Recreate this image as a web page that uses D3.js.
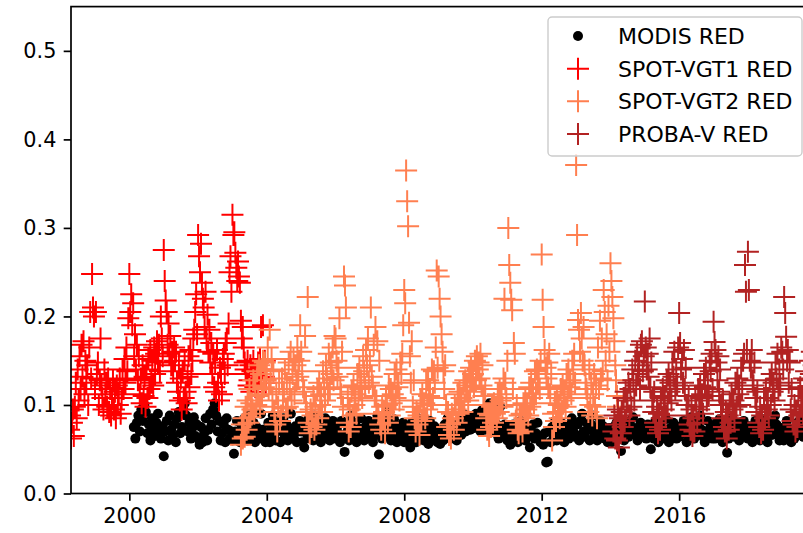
<!DOCTYPE html>
<html>
<head>
<meta charset="utf-8">
<script src="https://cdn.jsdelivr.net/npm/d3@7"></script>
<style>
  html, body { margin: 0; padding: 0; background: #fff; }
  svg { display: block; }
  text { font-family: "DejaVu Sans", sans-serif; fill: #000; }
</style>
</head>
<body>
<svg id="chart" width="803" height="533"></svg>
<script>
// ---- Red-band reflectance time series -------------------------------------

// Series labels and colours, in draw order
const seriesNames  = ["MODIS RED", "SPOT-VGT1 RED", "SPOT-VGT2 RED", "PROBA-V RED"];
const seriesColors = ["#000000", "#ff0000", "#ff7f50", "#b22222"];

// Axis ticks
const yTicks = [0.0, 0.1, 0.2, 0.3, 0.4, 0.5];
const yTickLabels = ["0.0", "0.1", "0.2", "0.3", "0.4", "0.5"];
const xTickYears = [2000, 2004, 2008, 2012, 2016, 2020];
const xDomain = [new Date(1998, 3, 21), new Date(2019, 10, 13)];
const yDomain = [0, 0.55];

// MODIS 16-day composites (23 per year), first composite: 2000, slot 3
const modisStart = [2000, 3];
const modisRed = [
  // 2000
  .075,.062,.080,.088,.070,.095,.082,.100,.092,.068,.078,.060,.085,.072,.065,.080,.090,.070,.062,.076,
  // 2001
  .042,.070,.082,.060,.088,.072,.065,.078,.058,.085,.092,.068,.075,.095,.102,.088,.070,.080,.062,.074,.086,.065,.078,
  // 2002
  .062,.055,.075,.058,.068,.085,.060,.072,.090,.078,.095,.102,.088,.070,.082,.060,.068,.078,.058,.085,.072,.062,.070,
  // 2003
  .060,.045,.070,.082,.062,.058,.078,.066,.085,.072,.060,.088,.070,.064,.080,.058,.075,.068,.062,.090,.072,.066,.058,
  // 2004
  .065,.080,.058,.072,.088,.066,.060,.082,.074,.058,.070,.085,.064,.078,.060,.072,.090,.068,.062,.076,.058,.070,.082,
  // 2005
  .070,.058,.052,.078,.066,.085,.062,.074,.060,.088,.070,.064,.080,.058,.072,.068,.085,.062,.076,.060,.070,.082,.066,
  // 2006
  .062,.075,.068,.058,.082,.064,.047,.078,.070,.060,.088,.072,.066,.080,.058,.074,.062,.085,.070,.060,.076,.068,.082,
  // 2007
  .064,.072,.058,.080,.066,.088,.044,.074,.062,.085,.070,.092,.066,.078,.060,.072,.084,.064,.058,.076,.070,.062,.080,
  // 2008
  .058,.068,.075,.062,.052,.080,.066,.072,.058,.085,.064,.070,.078,.060,.074,.068,.056,.082,.070,.062,.076,.066,.058,
  // 2009
  .064,.056,.072,.060,.078,.066,.085,.070,.062,.080,.068,.075,.060,.072,.082,.066,.090,.076,.070,.088,.080,.072,.085,
  // 2010
  .082,.074,.090,.078,.086,.070,.094,.080,.072,.088,.096,.102,.090,.076,.084,.068,.078,.062,.098,.070,.064,.078,.066,
  // 2011
  .060,.072,.055,.068,.078,.062,.074,.058,.070,.082,.064,.072,.060,.076,.066,.052,.070,.078,.062,.068,.080,.064,.058,
  // 2012
  .062,.055,.068,.035,.036,.070,.058,.075,.064,.082,.060,.068,.072,.080,.066,.058,.074,.068,.062,.078,.085,.070,.064,
  // 2013
  .066,.078,.060,.082,.090,.070,.064,.080,.072,.060,.078,.088,.068,.074,.060,.072,.082,.066,.076,.062,.070,.058,.074,
  // 2014
  .068,.058,.075,.064,.080,.070,.062,.048,.074,.060,.078,.068,.064,.082,.070,.086,.074,.066,.060,.072,.080,.064,.076,
  // 2015
  .070,.062,.078,.066,.050,.074,.062,.082,.070,.058,.066,.076,.062,.070,.084,.068,.058,.074,.066,.080,.070,.062,.072,
  // 2016
  .064,.076,.068,.082,.070,.058,.066,.078,.086,.070,.062,.074,.066,.080,.088,.072,.064,.058,.070,.082,.066,.076,.062,
  // 2017
  .074,.062,.080,.068,.084,.070,.058,.066,.078,.046,.062,.072,.086,.074,.064,.080,.070,.060,.076,.066,.082,.070,.064,
  // 2018
  .062,.076,.068,.058,.072,.082,.066,.074,.060,.070,.084,.072,.064,.058,.074,.080,.066,.072,.088,.078,.068,.060,.074,
  // 2019
  .070,.060,.074,.082,.066,.072,.058,.068,.062,.070,.080,.066,.084,.072,.064,.078,.088,.080,.070,.066,.078,.062,.074
];

// SPOT-VGT1 10-day composites, first composite: April 1998 (dekad 9)
const vgt1Start = [1998, 9];
const vgt1Red = [
  // 1998 Apr-Dec
  .072,.088,.062, .080,.095,.065, .098,.125,.085, .140,.105,.155, .118,.168,.132,
  .172,.112,.150, .125,.145,.100, .165,.205,.130, .248,.210,.200,
  // 1999
  .118,.205,.135, .148,.100,.128, .175,.122,.108, .095,.140,.112, .125,.098,.130, .092,.118,.088,
  .108,.128,.095, .115,.085,.122, .100,.112,.130, .090,.108,.140, .118,.152,.125, .165,.138,.198,
  // 2000
  .248,.205,.225, .190,.215,.155, .180,.140,.168, .128,.155,.112, .130,.102,.145, .110,.132,.098,
  .140,.108,.152, .118,.162,.125, .150,.122,.165, .135,.158,.172, .148,.168,.138, .200,.175,.155,
  // 2001
  .275,.240,.218, .205,.168,.192, .158,.178,.145, .160,.138,.165, .150,.160,.125, .115,.145,.105,
  .130,.095,.138, .108,.150,.115, .102,.132,.155, .120,.162,.135, .150,.175,.185, .205,.225,.180,
  // 2002
  .292,.268,.250, .282,.238,.220, .210,.188,.228, .175,.202,.160, .185,.148,.170, .135,.158,.120,
  .148,.115,.162, .125,.105,.142, .135,.112,.152, .158,.135,.170, .175,.145,.192, .250,.268,.228,
  // 2003
  .315,.292,.295, .272,.255,.240, .262,.245,.238, .195,.175,.188, .165,.148,.140, .135,.150,.122,
  .128,.145,.115, .138,.150,.135, .120,.140,.125, .148,.130,.152, .188,.140,.190, .132,.150,.125
];

// SPOT-VGT2 10-day composites, first composite: April 2003 (dekad 9)
const vgt2Start = [2003, 9];
const vgt2Red = [
  // 2003 Apr-Dec
  .055,.078,.062, .085,.064,.098, .072,.105,.080, .118,.086,.102, .095,.128,.090,
  .122,.100,.138, .110,.145,.098, .135,.112,.150, .120,.148,.128,
  // 2004
  .140,.165,.118, .185,.125,.152, .105,.138,.092, .078,.112,.070, .098,.125,.082, .088,.130,.105,
  .115,.140,.096, .125,.098,.148, .118,.160,.105, .135,.152,.112, .145,.128,.165, .132,.150,.190,
  // 2005
  .160,.138,.120, .115,.178,.102, .092,.222,.080, .068,.095,.075, .088,.110,.072, .098,.078,.118,
  .085,.125,.100, .112,.092,.138, .120,.105,.145, .130,.112,.158, .118,.148,.135, .165,.128,.178,
  // 2006
  .175,.150,.132, .142,.198,.120, .112,.160,.098, .245,.235,.210, .080,.108,.070, .095,.075,.115,
  .088,.122,.100, .112,.090,.135, .105,.142,.118, .128,.108,.155, .138,.120,.162, .145,.175,.125,
  // 2007
  .150,.210,.132, .122,.168,.110, .188,.105,.172, .090,.150,.078, .072,.098,.085, .092,.068,.110,
  .100,.080,.122, .088,.118,.102, .112,.095,.135, .108,.140,.120, .125,.105,.148, .135,.158,.190,
  // 2008
  .230,.215,.365, .330,.302,.193, .155,.125,.172, .098,.128,.085, .070,.092,.078, .088,.066,.105,
  .082,.112,.095, .102,.085,.125, .095,.128,.110, .118,.100,.140, .108,.138,.125, .165,.252,.142,
  // 2009
  .245,.220,.200, .180,.160,.138, .118,.145,.100, .075,.092,.066, .078,.062,.090, .085,.072,.100,
  .095,.080,.112, .090,.115,.100, .108,.092,.125, .100,.128,.115, .122,.105,.138, .115,.142,.128,
  // 2010
  .135,.120,.150, .128,.155,.140, .148,.130,.158, .122,.145,.110, .100,.118,.085, .072,.090,.065,
  .088,.075,.098, .080,.102,.090, .098,.085,.112, .092,.118,.105, .112,.098,.130, .220,.125,.108,
  // 2011
  .150,.300,.258, .238,.219,.207, .118,.170,.158, .082,.100,.072, .068,.088,.078, .090,.070,.102,
  .085,.108,.095, .102,.088,.120, .098,.125,.108, .118,.102,.138, .112,.140,.125, .135,.118,.150,
  // 2012
  .270,.219,.188, .162,.142,.130, .148,.120,.158, .112,.135,.060, .090,.075,.102, .082,.108,.092,
  .100,.085,.118, .092,.122,.105, .115,.098,.135, .108,.140,.120, .128,.112,.150, .135,.158,.125,
  // 2013
  .371,.292,.196, .185,.160,.204, .175,.150,.188, .145,.125,.118, .108,.092,.140, .100,.125,.088,
  .112,.135,.098, .122,.085,.165, .118,.195,.130, .175,.138,.230, .205,.150,.180, .128,.212,.160,
  // 2014 Jan-Mar
  .260,.240,.222, .198,.172,.145, .128,.110,.098
];

// PROBA-V 10-day composites, first composite: February 2014 (dekad 3)
const probaStart = [2014, 3];
const probaRed = [
  // 2014 Feb-Dec
  .070,.088,.062, .078,.060,.095, .052,.085,.068, .092,.075,.108, .082,.115,.095, .105,.125,.088,
  .118,.098,.140, .128,.105,.150, .122,.160,.135, .145,.118,.168, .172,.138,.155,
  // 2015
  .217,.165,.140, .158,.132,.175, .120,.148,.105, .092,.115,.080, .075,.098,.068, .090,.072,.108,
  .085,.118,.095, .110,.088,.128, .102,.135,.115, .125,.105,.148, .132,.160,.118, .140,.122,.165,
  // 2016
  .204,.170,.140, .152,.125,.162, .118,.142,.100, .088,.110,.078, .072,.095,.065, .085,.070,.105,
  .098,.080,.118, .095,.122,.108, .112,.090,.135, .120,.142,.105, .128,.110,.150, .138,.158,.118,
  // 2017
  .194,.171,.162, .148,.128,.155, .115,.140,.100, .085,.105,.075, .070,.092,.062, .088,.072,.102,
  .080,.112,.095, .105,.085,.125, .098,.130,.112, .122,.100,.142, .118,.150,.158, .258,.228,.162,
  // 2018
  .273,.230,.150, .142,.162,.128, .122,.148,.108, .092,.115,.080, .075,.098,.068, .088,.072,.108,
  .085,.118,.095, .108,.088,.128, .100,.135,.115, .125,.105,.148, .130,.158,.118, .140,.122,.165,
  // 2019
  .160,.140,.222, .204,.177,.150, .162,.125,.148, .095,.118,.082, .078,.100,.070, .092,.075,.110,
  .088,.120,.098, .110,.090,.130, .105,.138,.118, .128,.108,.150, .135,.160,.120, .145,.125,.168
];

// ---- Date helpers for composite periods -----------------------------------
function modisDate(start, i) {
  const slot = start[1] + i;
  const year = start[0] + Math.floor(slot / 23);
  const doy = (slot % 23) * 16;               // first day of the 16-day period
  return new Date(year, 0, 1 + doy);
}
function dekadDate(start, i) {
  const k = start[1] + i;
  const year = start[0] + Math.floor(k / 36);
  const d = k % 36;
  return new Date(year, Math.floor(d / 3), 1 + 10 * (d % 3));
}

const modisPts = modisRed.map((v, i) => ({ date: modisDate(modisStart, i), value: v }));
const vgt1Pts  = vgt1Red.map((v, i) => ({ date: dekadDate(vgt1Start, i), value: v }));
const vgt2Pts  = vgt2Red.map((v, i) => ({ date: dekadDate(vgt2Start, i), value: v }));
const probaPts = probaRed.map((v, i) => ({ date: dekadDate(probaStart, i), value: v }));

// ---- Layout -----------------------------------------------------------------
const plot = { left: 71, right: 812, top: 6.6, bottom: 493.5 };
const tickFontPx = 20.8;
const legendFontPx = 22;
const tickLen = 7.3;
const crossSize = 22;
const dotR = 5;

const svg = d3.select("#chart");

const x = d3.scaleTime().domain(xDomain).range([plot.left, plot.right]);
const y = d3.scaleLinear().domain(yDomain).range([plot.bottom, plot.top]);

svg.append("defs").append("clipPath").attr("id", "plot-clip")
  .append("rect")
  .attr("x", plot.left).attr("y", plot.top)
  .attr("width", plot.right - plot.left).attr("height", plot.bottom - plot.top);

const marks = svg.append("g").attr("clip-path", "url(#plot-clip)");

// MODIS: filled dots
marks.append("g").selectAll("circle")
  .data(modisPts).join("circle")
  .attr("cx", d => x(d.date)).attr("cy", d => y(d.value))
  .attr("r", dotR).attr("fill", seriesColors[0]);

// SPOT / PROBA-V: plus markers
const crossPath = (cx, cy) => {
  const h = crossSize / 2;
  return `M${cx - h},${cy}H${cx + h}M${cx},${cy - h}V${cy + h}`;
};
[[vgt1Pts, seriesColors[1]], [vgt2Pts, seriesColors[2]], [probaPts, seriesColors[3]]]
  .forEach(([pts, col]) => {
    marks.append("path")
      .attr("d", pts.map(d => crossPath(x(d.date), y(d.value))).join(""))
      .attr("fill", "none").attr("stroke", col).attr("stroke-width", 2);
  });

// ---- Axes -------------------------------------------------------------------
const xAxis = d3.axisBottom(x)
  .tickValues(xTickYears.map(yr => new Date(yr, 0, 1)))
  .tickFormat(d3.timeFormat("%Y"))
  .tickSize(tickLen).tickPadding(7.3);
const yAxis = d3.axisLeft(y)
  .tickValues(yTicks)
  .tickFormat((d, i) => yTickLabels[i])
  .tickSize(tickLen).tickPadding(7.3);

const gx = svg.append("g").attr("transform", `translate(0,${plot.bottom})`).call(xAxis);
const gy = svg.append("g").attr("transform", `translate(${plot.left},0)`).call(yAxis);
[gx, gy].forEach(g => {
  g.select(".domain").remove();
  g.selectAll(".tick line").attr("stroke", "#000").attr("stroke-width", 1.7);
  g.selectAll(".tick text").attr("font-size", tickFontPx).attr("font-family", "DejaVu Sans").attr("fill", "#000");
});
// drop ticks that fall outside the plotted range
gx.selectAll(".tick").filter(d => x(d) > plot.right).remove();

// spines
svg.append("rect")
  .attr("x", plot.left).attr("y", plot.top)
  .attr("width", plot.right - plot.left).attr("height", plot.bottom - plot.top)
  .attr("stroke", "#000").attr("stroke-width", 1.7).attr("fill", "none");

// ---- Legend -------------------------------------------------------------------
const legend = svg.append("g");
legend.append("rect")
  .attr("x", 548).attr("y", 17).attr("width", 254).attr("height", 139)
  .attr("rx", 4).attr("ry", 4)
  .attr("fill", "#fff").attr("fill-opacity", 0.8)
  .attr("stroke", "#cccccc").attr("stroke-width", 1.4);

const rowY = d3.scalePoint().domain(seriesNames).range([36, 134]);
seriesNames.forEach((name, i) => {
  const cy = rowY(name);
  if (i === 0) {
    legend.append("circle").attr("cx", 578).attr("cy", cy).attr("r", dotR).attr("fill", seriesColors[0]);
  } else {
    legend.append("path").attr("d", crossPath(578, cy))
      .attr("stroke", seriesColors[i]).attr("stroke-width", 2).attr("fill", "none");
  }
  legend.append("text")
    .attr("x", 618).attr("y", cy).attr("dy", "0.36em")
    .attr("font-size", legendFontPx)
    .text(name);
});
</script>
</body>
</html>
